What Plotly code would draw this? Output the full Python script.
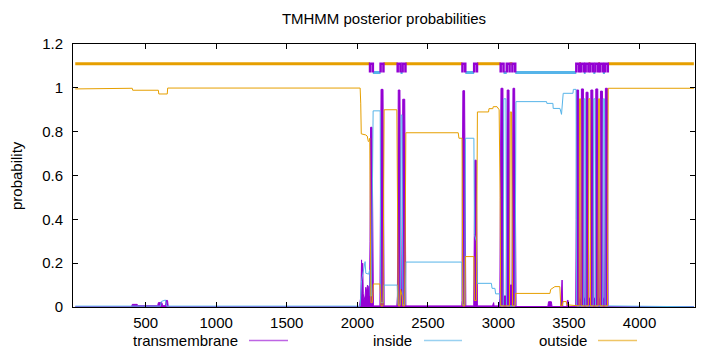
import plotly.graph_objects as go

# ---------------- data ----------------
seq_len = 4385

# transmembrane posterior (drawn as impulses -> filled)
tm_x = [1, 400, 405, 440, 445, 585, 590, 615, 620, 640, 645, 655, 660, 2015, 2025, 2030, 2035, 2038, 2042, 2048,
        2055, 2060, 2066, 2072, 2080, 2086, 2090, 2094, 2104, 2110, 2114, 2160, 2164, 2168, 2182, 2186, 2190,
        2280, 2284, 2287, 2290, 2302, 2306, 2310, 2316, 2318, 2322, 2336, 2340, 2344, 2740, 2742, 2744, 2748,
        2760, 2765, 2769, 2825, 2830, 2833, 2843, 2847, 2851, 2958, 2961, 2966, 2969, 3005, 3010, 3013, 3018,
        3032, 3037, 3055, 3058, 3062, 3075, 3080, 3096, 3099, 3103, 3115, 3120, 3125, 3350, 3355, 3375, 3380,
        3442, 3447, 3451, 3456, 3485, 3488, 3494, 3497, 3548, 3551, 3554, 3568, 3573, 3583, 3588, 3602, 3607,
        3616, 3621, 3635, 3640, 3650, 3655, 3669, 3674, 3685, 3690, 3704, 3709, 3718, 3723, 3737, 3742, 3753,
        3758, 3772, 3777, 4385]
tm_y = [0.001, 0.001, 0.012, 0.012, 0.006, 0.006, 0.02, 0.02, 0.006, 0.006, 0.03, 0.03, 0.001, 0.001, 0.05,
        0.215, 0.1, 0.2, 0.06, 0.03, 0.05, 0.09, 0.07, 0.1, 0.09, 0.06, 0.3, 0.82, 0.82, 0.2, 0.005, 0.005, 0.4,
        0.993, 0.993, 0.3, 0.005, 0.005, 0.05, 0.5, 0.99, 0.99, 0.4, 0.08, 0.08, 0.3, 0.948, 0.948, 0.3, 0.005,
        0.005, 0.03, 0.5, 0.987, 0.987, 0.3, 0.005, 0.005, 0.5, 0.67, 0.67, 0.3, 0.005, 0.005, 0.02, 0.02, 0.005,
        0.005, 0.04, 0.5, 0.998, 0.998, 0.05, 0.05, 0.5, 0.99, 0.99, 0.1, 0.1, 0.5, 0.998, 0.998, 0.3, 0.002,
        0.002, 0.024, 0.024, 0.002, 0.002, 0.123, 0.123, 0.002, 0.002, 0.03, 0.03, 0.002, 0.002, 0.4, 0.99, 0.99,
        0.04, 0.04, 0.995, 0.995, 0.04, 0.04, 0.98, 0.98, 0.04, 0.04, 0.99, 0.99, 0.04, 0.04, 0.995, 0.995, 0.04,
        0.04, 0.985, 0.985, 0.04, 0.04, 0.998, 0.998, 0.002, 0.001]

# inside posterior
in_x = [1, 605, 610, 640, 648, 2020, 2030, 2050, 2055, 2060, 2080, 2088, 2092, 2100, 2106, 2112, 2162, 2166,
        2184, 2188, 2283, 2288, 2304, 2308, 2310, 2316, 2320, 2323, 2339, 2344, 2739, 2742, 2746, 2762, 2766,
        2826, 2830, 2844, 2850, 2950, 2955, 2975, 2980, 3010, 3014, 3034, 3038, 3053, 3057, 3118, 3124, 3341,
        3343, 3386, 3388, 3436, 3447, 3459, 3528, 3531, 3550, 3554, 3604, 3608, 3615, 3619, 3671, 3675, 3684,
        3688, 3739, 3743, 3752, 3756, 4385]
in_y = [0.004, 0.004, 0.025, 0.032, 0.004, 0.004, 0.12, 0.207, 0.207, 0.154, 0.15, 0.17, 0.05, 0.05, 0.5,
        0.895, 0.895, 0.02, 0.02, 0.1, 0.1, 0.01, 0.01, 0.5, 0.876, 0.876, 0.3, 0.01, 0.01, 0.205, 0.205, 0.2,
        0.01, 0.01, 0.77, 0.77, 0.33, 0.3, 0.108, 0.108, 0.085, 0.085, 0.06, 0.06, 0.005, 0.005, 0.95, 0.95,
        0.005, 0.005, 0.937, 0.937, 0.929, 0.929, 0.906, 0.906, 0.879, 0.975, 0.975, 0.993, 0.993, 0.005, 0.005,
        0.95, 0.95, 0.005, 0.005, 0.95, 0.95, 0.005, 0.005, 0.95, 0.95, 0.005, 0.001]

# outside posterior
out_x = [1, 78, 80, 405, 408, 590, 593, 653, 656, 2020, 2024, 2028, 2060, 2070, 2078, 2086, 2088, 2092, 2096,
         2106, 2110, 2114, 2160, 2164, 2168, 2182, 2186, 2190, 2280, 2286, 2290, 2302, 2306, 2318, 2322, 2336,
         2340, 2344, 2715, 2720, 2742, 2745, 2748, 2762, 2766, 2826, 2830, 2844, 2847, 2851, 2930, 2933, 2960,
         2963, 2990, 3005, 3012, 3016, 3078, 3081, 3084, 3093, 3097, 3100, 3117, 3122, 3365, 3370, 3400, 3435,
         3442, 3452, 3458, 3480, 3485, 3548, 3572, 3575, 3582, 3586, 3637, 3641, 3649, 3653, 3706, 3710, 3717,
         3721, 3773, 3778, 4385]
out_y = [0.995, 0.995, 0.998, 0.998, 0.989, 0.989, 0.972, 0.972, 0.999, 0.999, 0.93, 0.79, 0.785, 0.78, 0.755,
         0.76, 0.77, 0.4, 0.02, 0.02, 0.08, 0.105, 0.105, 0.05, 0.005, 0.005, 0.6, 0.9, 0.9, 0.5, 0.005, 0.005,
         0.08, 0.05, 0.005, 0.005, 0.5, 0.795, 0.795, 0.77, 0.77, 0.4, 0.005, 0.005, 0.23, 0.23, 0.03, 0.03, 0.5,
         0.89, 0.89, 0.905, 0.905, 0.914, 0.914, 0.9, 0.5, 0.005, 0.005, 0.7, 0.89, 0.89, 0.4, 0.005, 0.005,
         0.062, 0.062, 0.08, 0.093, 0.093, 0.005, 0.005, 0.025, 0.025, 0.01, 0.005, 0.005, 0.95, 0.95, 0.005,
         0.005, 0.95, 0.95, 0.005, 0.005, 0.95, 0.95, 0.005, 0.005, 0.998, 0.998]

# predicted topology (top bar)
tm_start = [2090, 2165, 2286, 2321, 2745, 2828, 3016, 3059, 3099, 3552, 3585, 3618, 3652, 3687, 3720, 3755]
tm_end = [2110, 2185, 2306, 2341, 2765, 2848, 3036, 3079, 3119, 3572, 3605, 3638, 3672, 3707, 3740, 3775]
first_loop = "outside"

x_ticks = [500, 1000, 1500, 2000, 2500, 3000, 3500, 4000]
y_ticks = [0, 0.2, 0.4, 0.6, 0.8, 1.0, 1.2]
y_tick_text = ["0", "0.2", "0.4", "0.6", "0.8", "1", "1.2"]
legend_names = ["transmembrane", "inside", "outside"]

C_TM = "#9400D3"
C_IN = "#56B4E9"
C_OUT = "#E69F00"
Y_OUT_BAR = 1.11
Y_IN_BAR = 1.07

FONT = "Liberation Sans, Arial, Helvetica, sans-serif"
FS = 15

# ---------------- figure ----------------
fig = go.Figure()

fig.add_trace(go.Scatter(x=tm_x, y=tm_y, mode="lines", line=dict(color=C_TM, width=1),
                         fill="tozeroy", fillcolor=C_TM, showlegend=False, hoverinfo="skip"))
fig.add_trace(go.Scatter(x=in_x, y=in_y, mode="lines", line=dict(color=C_IN, width=1),
                         showlegend=False, hoverinfo="skip"))
fig.add_trace(go.Scatter(x=out_x, y=out_y, mode="lines", line=dict(color=C_OUT, width=1),
                         showlegend=False, hoverinfo="skip"))

# topology bar
loop_bounds = [1] + [v for pair in zip(tm_start, tm_end) for v in pair] + [seq_len]
ox, oy, ix, iy = [], [], [], []
state = first_loop
for k in range(0, len(loop_bounds), 2):
    a, b = loop_bounds[k], loop_bounds[k + 1]
    if state == "outside":
        ox += [a, b, None]
        oy += [Y_OUT_BAR, Y_OUT_BAR, None]
    else:
        ix += [a, b, None]
        iy += [Y_IN_BAR, Y_IN_BAR, None]
    state = "inside" if state == "outside" else "outside"

fig.add_trace(go.Scatter(x=ix, y=iy, mode="lines", line=dict(color=C_IN, width=3),
                         showlegend=False, hoverinfo="skip"))
fig.add_trace(go.Scatter(x=ox, y=oy, mode="lines", line=dict(color=C_OUT, width=3),
                         showlegend=False, hoverinfo="skip"))
bx, by = [], []
for s, e in zip(tm_start, tm_end):
    bx += [s, s, e, e, None]
    by += [Y_IN_BAR, Y_OUT_BAR, Y_OUT_BAR, Y_IN_BAR, None]
fig.add_trace(go.Scatter(x=bx, y=by, mode="lines", line=dict(color=C_TM, width=2.5),
                         showlegend=False, hoverinfo="skip"))

# gnuplot-style key: text then line sample
L, R, T, B = 73, 25, 44, 45
PW, PH = 720 - L - R, 352 - T - B
def px(xp):
    return (xp - L) / PW
def py(yp):
    return (352 - B - yp) / PH

key_text_right = [240, 414, 589]
key_line = [(249, 288), (424, 462), (598, 637)]
key_colors = [C_TM, C_IN, C_OUT]
key_y = 340
annotations = []
shapes = []
for name, xr, (l0, l1), c in zip(legend_names, key_text_right, key_line, key_colors):
    annotations.append(dict(text=name, x=px(xr), y=py(key_y), xref="paper", yref="paper",
                            xanchor="right", yanchor="middle", showarrow=False,
                            font=dict(family=FONT, size=FS, color="black")))
    shapes.append(dict(type="line", xref="paper", yref="paper", x0=px(l0), x1=px(l1),
                       y0=py(key_y + 0.5), y1=py(key_y + 0.5), opacity=0.6,
                       line=dict(color=c, width=1.5)))

annotations.append(dict(text="probability", x=px(16), y=py(176), xref="paper", yref="paper",
                        textangle=-90, xanchor="center", yanchor="middle", showarrow=False,
                        font=dict(family=FONT, size=FS, color="black")))

fig.update_layout(
    width=720, height=352,
    margin=dict(l=L, r=R, t=T, b=B),
    paper_bgcolor="white", plot_bgcolor="white",
    font=dict(family=FONT, size=FS, color="black"),
    title=dict(text="TMHMM posterior probabilities", x=(L + PW / 2) / 720, xanchor="center",
               y=1 - 19 / 352, yanchor="middle", yref="container",
               font=dict(family=FONT, size=FS, color="black")),
    annotations=annotations, shapes=shapes,
    showlegend=False,
)
fig.update_xaxes(range=[-15, 4393], tickvals=x_ticks, ticks="inside", ticklen=5, tickcolor="black",
                 showline=True, linecolor="black", linewidth=1, mirror="ticks", showgrid=False,
                 zeroline=False, ticklabelstandoff=2, tickfont=dict(family=FONT, size=FS, color="black"))
fig.update_yaxes(range=[0, 1.2], tickvals=y_ticks, ticktext=y_tick_text, ticks="inside", ticklen=5,
                 tickcolor="black", showline=True, linecolor="black", linewidth=1, mirror="ticks",
                 showgrid=False, zeroline=False, ticklabelstandoff=6,
                 tickfont=dict(family=FONT, size=FS, color="black"))

fig.write_html("out.html")
